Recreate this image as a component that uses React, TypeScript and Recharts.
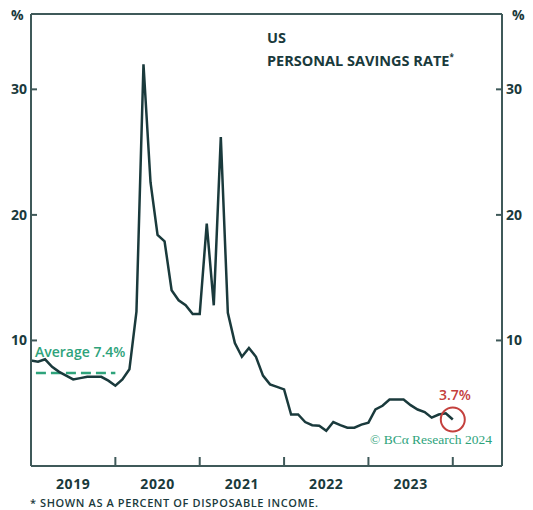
import { LineChart, Line, XAxis, YAxis, ReferenceLine, ReferenceDot } from "recharts"

// monthly personal savings rate, Jan 2019 .. Jan 2024 (%)
const SAVINGS = [
  8.4, 8.3, 8.5, 7.9, 7.5, 7.2, 6.9, 7.0, 7.1, 7.1, 7.1, 6.8,
  6.4, 6.9, 7.7, 12.3, 32.0, 22.6, 18.4, 17.9, 14.0, 13.2, 12.8, 12.1,
  12.1, 19.3, 12.8, 26.2, 12.2, 9.8, 8.7, 9.4, 8.7, 7.2, 6.5, 6.3,
  6.1, 4.1, 4.1, 3.5, 3.25, 3.2, 2.8, 3.5, 3.25, 3.05, 3.05, 3.3,
  3.45, 4.5, 4.8, 5.3, 5.3, 5.3, 4.85, 4.5, 4.3, 3.85, 4.1, 4.2,
  3.7,
]
const YEARS = ["2019", "2020", "2021", "2022", "2023"]
const Y_TICKS = [10, 20, 30]
const Y_MAX = 36
const AVERAGE = 7.4
const LATEST = 3.7

const data = SAVINGS.map((rate, m) => ({ m, rate }))
const yearTicks = YEARS.map((_, i) => i * 12 + 6)
const boundaryTicks = YEARS.map((_, i) => (i + 1) * 12)
const lastIndex = SAVINGS.length - 1

const INK = "#1a3a3c"
const FRAME = "#3f5959"
const GREEN = "#2ea37b"
const RED = "#c4403d"
const FONT = "'Open Sans', sans-serif"

const abs = (x: number, y: number) => ({ position: "absolute" as const, left: x, top: y })
const axisTick = { fill: INK, fontSize: 14, fontWeight: 700, fontFamily: FONT }

export default function App() {
  return (
    <div style={{ position: "absolute", left: 0, top: 0, width: 533, height: 510, background: "#fff", fontFamily: FONT }}>
      <LineChart width={533} height={510} data={data} margin={{ top: 14, right: 0, bottom: 0, left: 0 }}>
        <XAxis xAxisId="a" type="number" dataKey="m" domain={[0, 67]} height={1}
          ticks={boundaryTicks} tickSize={-9} tick={{ fill: "transparent" }}
          tickLine={{ stroke: FRAME, strokeWidth: 2 }} stroke={FRAME} strokeWidth={2} />
        <XAxis xAxisId="b" type="number" dataKey="m" domain={[0, 67]} height={43}
          ticks={yearTicks} tickFormatter={(v) => YEARS[(v - 6) / 12]} axisLine={false} tickLine={false}
          tickSize={4} tickMargin={8} tick={{ ...axisTick, letterSpacing: 0.6 }} />
        <YAxis yAxisId="left" domain={[0, Y_MAX]} ticks={Y_TICKS} width={31} tickSize={-6} tickMargin={10}
          stroke={FRAME} strokeWidth={2} tickLine={{ stroke: FRAME, strokeWidth: 2 }} tick={axisTick} />
        <YAxis yAxisId="right" orientation="right" domain={[0, Y_MAX]} ticks={Y_TICKS} width={31} tickSize={-6} tickMargin={10}
          stroke={FRAME} strokeWidth={2} tickLine={{ stroke: FRAME, strokeWidth: 2 }} tick={axisTick} />
        <ReferenceLine xAxisId="b" yAxisId="left" y={Y_MAX} stroke={FRAME} strokeWidth={2} />
        <ReferenceLine xAxisId="b" yAxisId="left" segment={[{ x: 0.7, y: AVERAGE }, { x: 12, y: AVERAGE }]}
          stroke={GREEN} strokeWidth={2.5} strokeDasharray="10 5" />
        <Line xAxisId="a" yAxisId="right" dataKey="rate" stroke="none" dot={false} activeDot={false}
          legendType="none" isAnimationActive={false} />
        <Line xAxisId="b" yAxisId="left" dataKey="rate" type="linear" stroke={INK} strokeWidth={2.5}
          dot={false} isAnimationActive={false} />
        <ReferenceDot xAxisId="b" yAxisId="left" x={lastIndex} y={LATEST} r={12}
          fill="none" stroke={RED} strokeWidth={2} />
      </LineChart>

      <div style={{ ...abs(11, 5), fontSize: 14, fontWeight: 700, color: INK }}>%</div>
      <div style={{ ...abs(512, 5), fontSize: 14, fontWeight: 700, color: INK }}>%</div>

      <div style={{ ...abs(267, 28), fontSize: 14.5, fontWeight: 700, color: INK, lineHeight: "19px" }}>
        US<br />PERSONAL SAVINGS RATE<sup style={{ fontSize: 8 }}>*</sup>
      </div>

      <div style={{ ...abs(35, 342), fontSize: 14, fontWeight: 600, color: GREEN }}>Average 7.4%</div>
      <div style={{ ...abs(439, 385), fontSize: 14, fontWeight: 600, color: RED }}>3.7%</div>
      <div style={{ ...abs(370, 432), fontSize: 13.5, color: GREEN, fontFamily: "'Liberation Serif', serif" }}>
        © BCα Research 2024
      </div>

      <div style={{ ...abs(30, 495), fontSize: 11, fontWeight: 600, color: INK, whiteSpace: "nowrap", letterSpacing: 0.6 }}>
        * SHOWN AS A PERCENT OF DISPOSABLE INCOME.
      </div>
    </div>
  )
}
